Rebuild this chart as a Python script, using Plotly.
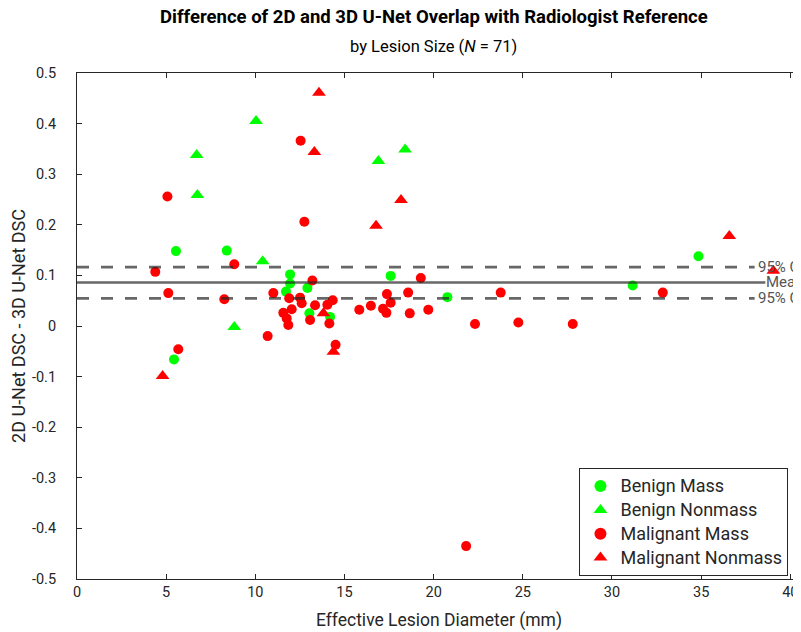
import plotly.graph_objects as go

# ---------------- data ----------------
benign_mass_x = [5.55, 5.44, 8.40, 11.95, 11.95, 11.72, 12.92, 13.03, 14.19, 17.59, 20.77, 31.16, 34.85]
benign_mass_y = [0.148, -0.066, 0.149, 0.102, 0.084, 0.068, 0.075, 0.025, 0.018, 0.099, 0.057, 0.080, 0.138]

benign_nonmass_x = [6.71, 6.75, 10.04, 16.90, 18.40, 10.41, 8.82]
benign_nonmass_y = [0.338, 0.259, 0.405, 0.326, 0.349, 0.128, -0.002]

malignant_mass_x = [5.07, 4.39, 5.12, 5.68, 12.54, 12.75, 8.82, 8.26, 10.69, 11.01,
                    11.90, 12.51, 12.60, 13.20, 11.57, 12.04, 11.76, 11.85, 13.35, 13.07,
                    14.04, 14.34, 14.15, 14.50, 15.83, 16.48, 17.16, 17.35, 17.38, 17.59,
                    18.57, 18.66, 19.28, 19.70, 22.32, 23.76, 24.75, 27.80, 32.85, 21.82]
malignant_mass_y = [0.256, 0.107, 0.065, -0.046, 0.366, 0.206, 0.122, 0.053, -0.020, 0.065,
                    0.055, 0.056, 0.045, 0.090, 0.026, 0.033, 0.015, 0.002, 0.041, 0.012,
                    0.042, 0.051, 0.005, -0.037, 0.032, 0.040, 0.034, 0.026, 0.063, 0.046,
                    0.066, 0.025, 0.095, 0.032, 0.004, 0.066, 0.007, 0.004, 0.066, -0.435]

malignant_nonmass_x = [4.80, 13.57, 13.31, 18.17, 16.77, 13.82, 14.38, 36.58, 39.05]
malignant_nonmass_y = [-0.099, 0.461, 0.344, 0.249, 0.198, 0.025, -0.051, 0.178, 0.109]

mean_diff = 0.086
ci_upper = 0.1165
ci_lower = 0.0545
mean_line_end = 38.6
ci_line_end = 38.0

x_ticks = [0, 5, 10, 15, 20, 25, 30, 35, 40]
y_ticks = [0.5, 0.4, 0.3, 0.2, 0.1, 0, -0.1, -0.2, -0.3, -0.4, -0.5]
y_tick_text = ["0.5", "0.4", "0.3", "0.2", "0.1", "0", "-0.1", "-0.2", "-0.3", "-0.4", "-0.5"]

# ---------------- figure ----------------
FONT = "Roboto, 'Noto Sans', sans-serif"
TXT = "#262626"
LINE_COL = "rgba(38,38,38,0.7)"

fig = go.Figure()

series = [
    ("Benign Mass", benign_mass_x, benign_mass_y, "circle", "#00FF00", 10),
    ("Benign Nonmass", benign_nonmass_x, benign_nonmass_y, "triangle-up", "#00FF00", 12),
    ("Malignant Mass", malignant_mass_x, malignant_mass_y, "circle", "#FF0000", 10),
    ("Malignant Nonmass", malignant_nonmass_x, malignant_nonmass_y, "triangle-up", "#FF0000", 12),
]
for name, xs, ys, sym, col, sz in series:
    fig.add_trace(go.Scatter(
        x=xs, y=ys, mode="markers",
        name="<span style='font-size:18px'>" + name + "</span>",
        marker=dict(symbol=sym, color=col, size=sz, line=dict(width=0)),
    ))

for val, dash, xend in [(ci_upper, "12px,12px", ci_line_end), (mean_diff, "solid", mean_line_end),
                        (ci_lower, "12px,12px", ci_line_end)]:
    fig.add_trace(go.Scatter(
        x=[0, xend], y=[val, val], mode="lines", showlegend=False,
        hoverinfo="skip", line=dict(color=LINE_COL, width=2.7, dash=dash),
    ))

for val, label, xpos in [(ci_upper, "95% CI", 38.1), (mean_diff, "Mean", 38.55), (ci_lower, "95% CI", 38.1)]:
    fig.add_annotation(
        x=xpos, y=val, xref="x", yref="y",
        text=label, showarrow=False, xanchor="left", yanchor="middle",
        font=dict(family=FONT, size=15, color="#555555"),
    )

fig.add_annotation(
    x=0.493, y=1.111, xref="paper", yref="paper", showarrow=False,
    text="<b>Difference of 2D and 3D U-Net Overlap with Radiologist Reference</b>",
    font=dict(family=FONT, size=18.5, color="#000000"), xanchor="center", yanchor="middle",
)
fig.add_annotation(
    x=0.493, y=1.0514, xref="paper", yref="paper", showarrow=False,
    text="by Lesion Size (<i>N</i> = 71)",
    font=dict(family=FONT, size=16.5, color="#000000"), xanchor="center", yanchor="middle",
)

fig.update_layout(
    width=801, height=632,
    margin=dict(l=69, r=8, t=65, b=61, autoexpand=False),
    plot_bgcolor="white", paper_bgcolor="white",
    font=dict(family=FONT, color=TXT),
    showlegend=True,
    legend=dict(
        x=0.694, y=0.219, xanchor="left", yanchor="top",
        bgcolor="white", bordercolor="#262626", borderwidth=1,
        font=dict(family=FONT, size=16, color=TXT),
        itemsizing="constant",
    ),
    xaxis=dict(
        range=[0, 40.6], tickvals=x_ticks, ticks="inside", ticklen=5,
        tickcolor="#262626", showline=True, linecolor="#262626", linewidth=1,
        mirror="ticks", showgrid=False, zeroline=False,
        tickfont=dict(size=14.5, color=TXT),
        title=dict(text="Effective Lesion Diameter (mm)", font=dict(size=17.5, color=TXT), standoff=13),
    ),
    yaxis=dict(
        range=[-0.5, 0.5], tickvals=y_ticks, ticktext=y_tick_text, ticks="inside", ticklen=5,
        tickcolor="#262626", showline=True, linecolor="#262626", linewidth=1,
        showgrid=False, zeroline=False, ticklabelstandoff=17,
        tickfont=dict(size=14.5, color=TXT),
        title=dict(text="2D U-Net DSC - 3D U-Net DSC", font=dict(size=18, color=TXT), standoff=6),
    ),
)

fig.write_html("out.html")
